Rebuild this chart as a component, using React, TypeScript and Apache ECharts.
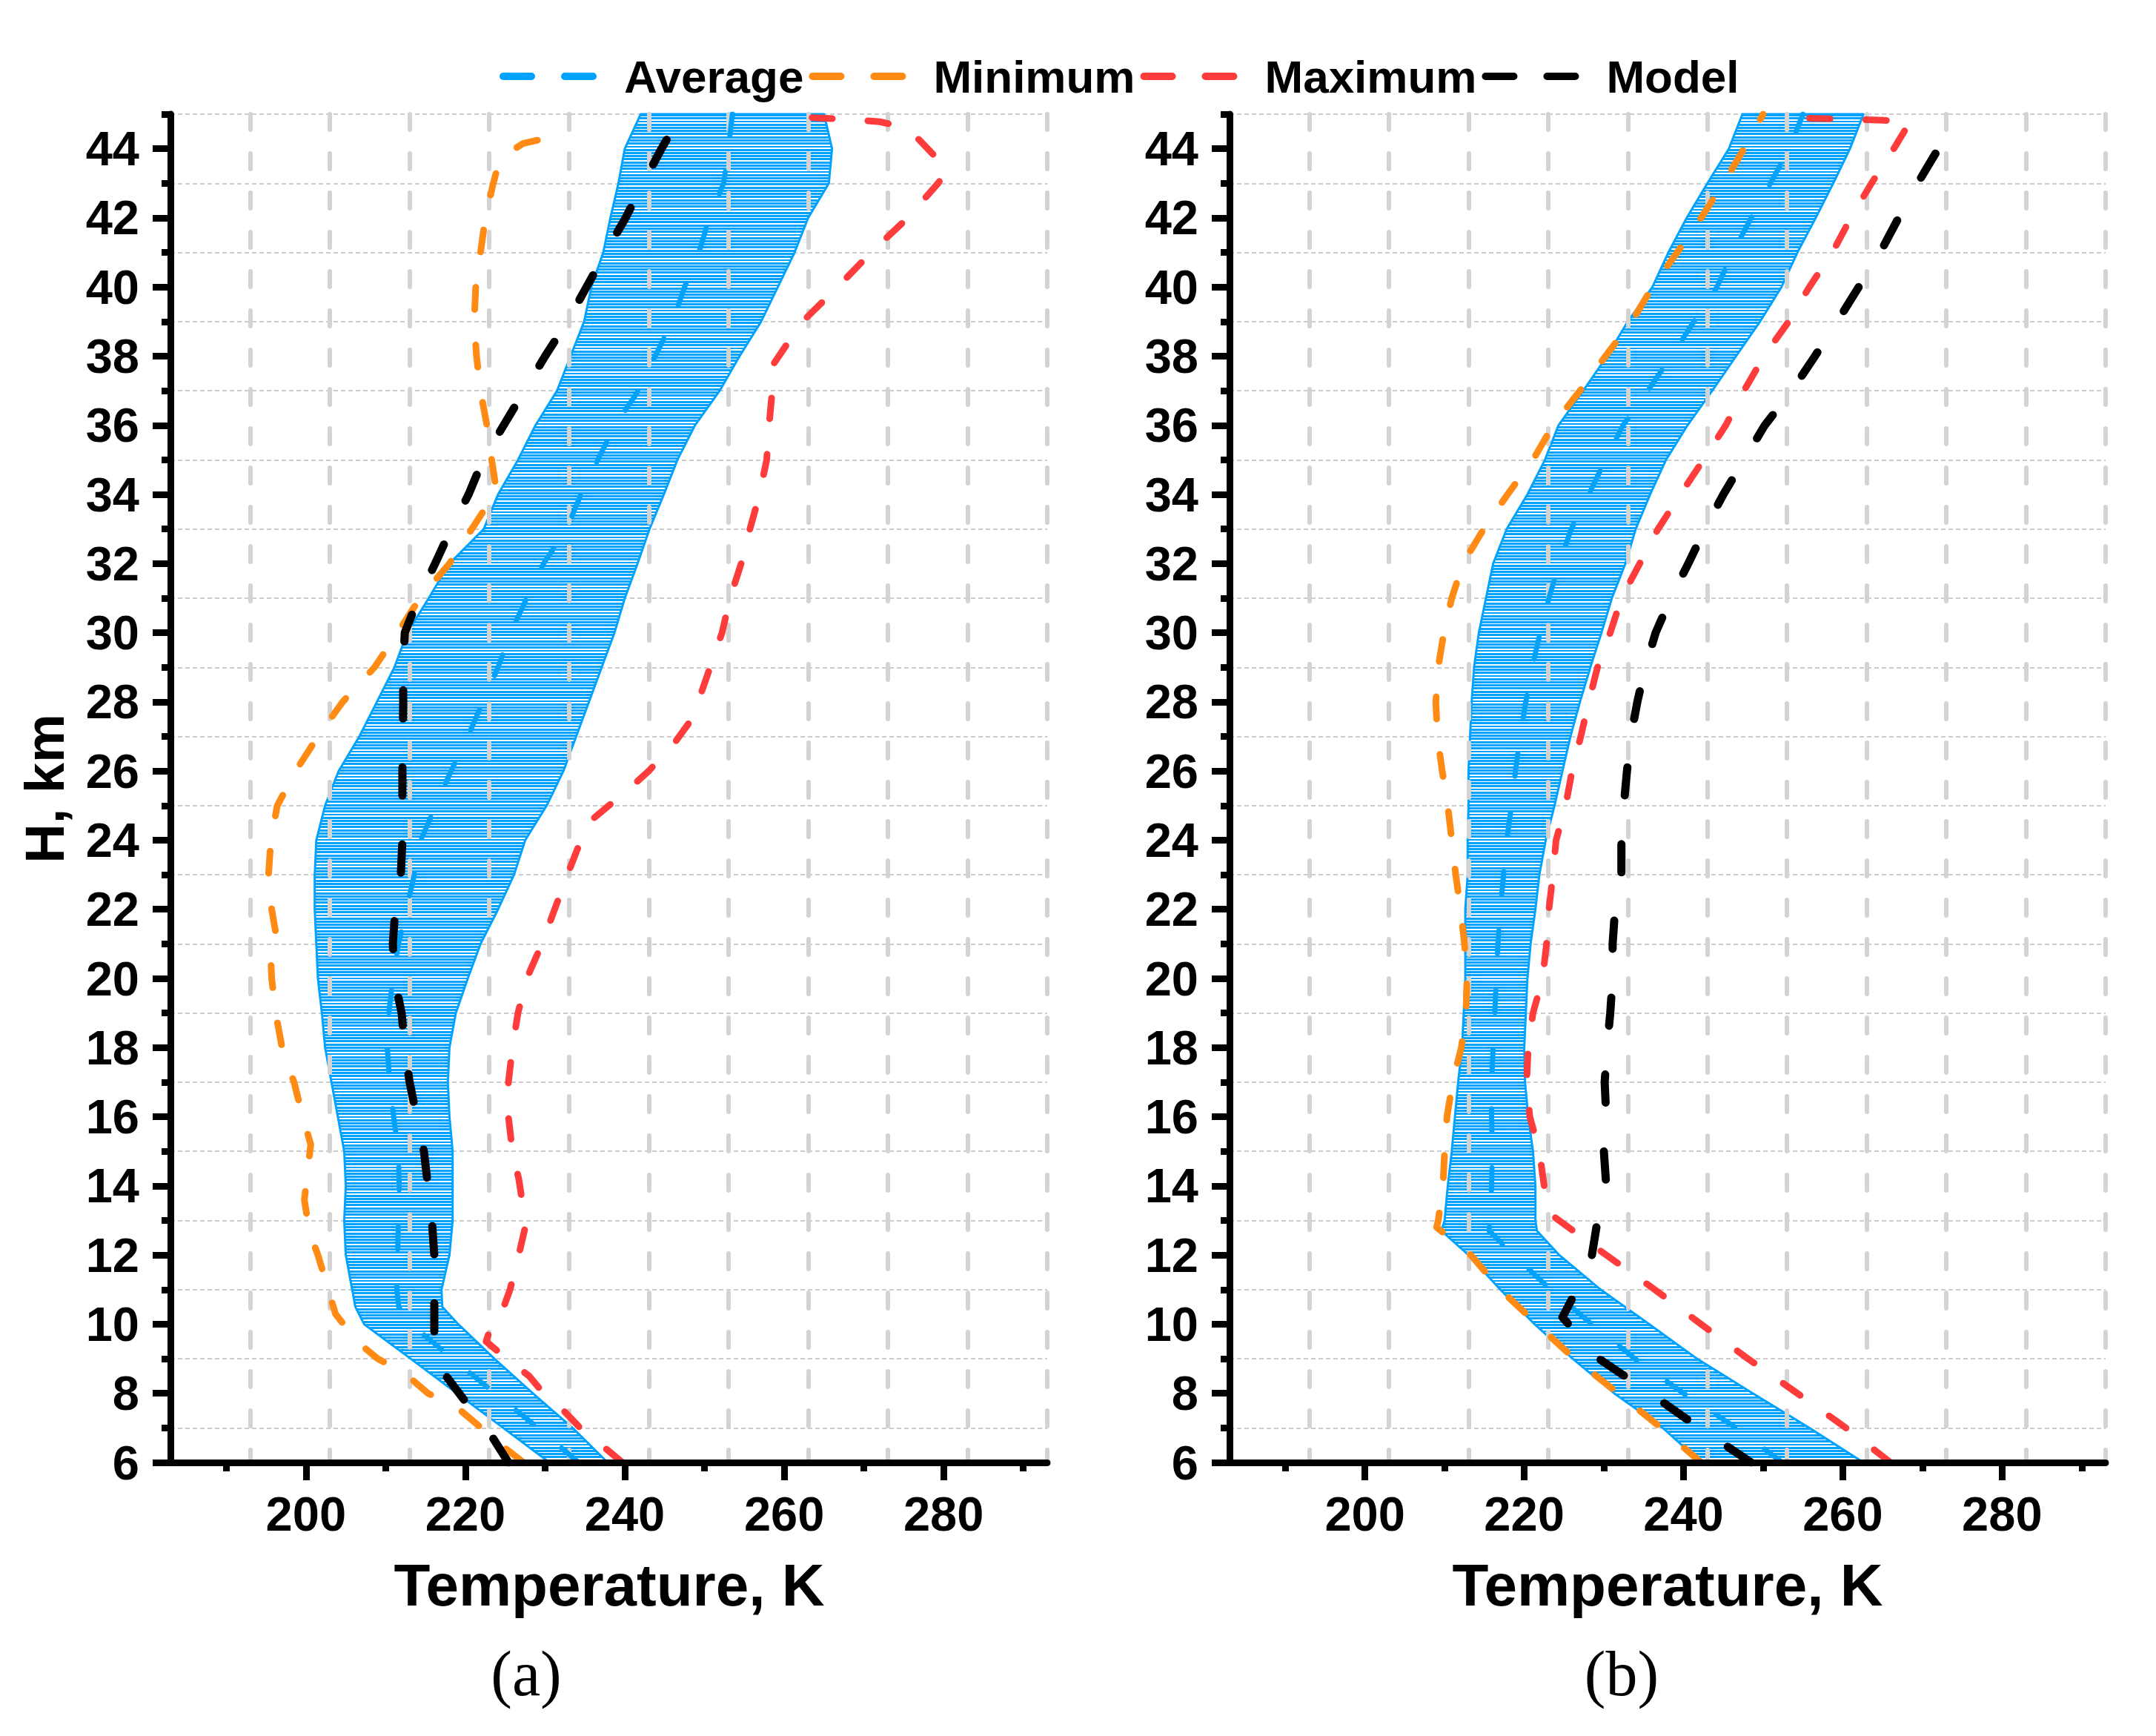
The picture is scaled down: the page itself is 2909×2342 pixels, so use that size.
import React, { useEffect, useRef } from "react";
import * as echarts from "echarts";

const BLUE = "#00a2ff";
const ORANGE = "#ff8a14";
const RED = "#ff3c3c";
const BLACK = "#000000";
const GRID_GRAY = "#d3d3d3";
const FONT = "'Liberation Sans', Arial, sans-serif";
const SERIF = "'Liberation Serif', 'Times New Roman', serif";

// Axes
const X_MIN = 183;
const X_MAX = 293;
const X_TICK_LABELS = [200, 220, 240, 260, 280];
const X_MINOR_TICKS = [190, 210, 230, 250, 270, 290];
const Y_MIN = 6;
const Y_MAX = 45;
const Y_TICK_LABELS = [6, 8, 10, 12, 14, 16, 18, 20, 22, 24, 26, 28, 30, 32, 34, 36, 38, 40, 42, 44];
const Y_MINOR_TICKS = [7, 9, 11, 13, 15, 17, 19, 21, 23, 25, 27, 29, 31, 33, 35, 37, 39, 41, 43, 45];

const SERIES_NAMES = ["Average", "Minimum", "Maximum", "Model"];

// ---------- Panel (a) ----------
const bandHeightsA = [6, 7, 8, 9, 10, 10.5, 11, 12, 13, 14, 15, 16, 17, 18, 19, 20, 21, 22, 23, 24, 25, 26, 27, 28, 29, 30, 31, 32, 33, 34, 35, 36, 37, 38, 39, 40, 41, 42, 43, 44, 45];
const avgA = [234.2, 229.1, 223.7, 218.4, 213.2, 211.65, 211.4, 211.5, 211.6, 211.7, 211.6, 211.0, 210.5, 210.2, 210.4, 210.9, 211.6, 212.6, 213.6, 214.4, 216.3, 218.2, 220.3, 222.2, 224.1, 225.7, 227.7, 229.8, 232.7, 234.5, 236.6, 238.8, 241.7, 243.8, 246.0, 247.5, 249.3, 250.6, 252.4, 253.0, 253.5];
const sdA = [3.65, 4.35, 4.75, 5.25, 5.9, 5.45, 5.6, 6.5, 6.8, 6.7, 6.8, 7.0, 7.3, 7.8, 8.4, 9.4, 10.3, 11.5, 12.5, 13.1, 13.9, 14.1, 13.6, 13.3, 13.0, 13.0, 12.3, 11.8, 10.4, 10.4, 10.0, 10.0, 10.2, 10.6, 11.1, 11.7, 12.0, 12.4, 13.2, 13.0, 11.5];

const minHeightsA = [6, 6.5, 7, 7.6, 8, 8.6, 9, 9.5, 10.3, 11, 12, 12.7, 13.6, 14.4, 15.2, 16, 17, 18, 19, 20, 20.5, 21.2, 22, 23, 24, 25, 26, 27, 28, 29, 30, 31, 32, 33, 34.1, 35, 36, 37, 38, 39, 40, 41, 42, 43, 43.7, 44.15, 44.4];
const minTempsA = [227.3, 224.5, 222.0, 218.9, 215.3, 212.3, 209.0, 206.4, 203.7, 202.8, 201.5, 200.4, 199.8, 200.2, 200.6, 199.6, 198.5, 197.0, 196.2, 195.7, 195.6, 196.3, 195.7, 195.3, 195.6, 196.4, 198.7, 201.5, 204.6, 208.6, 211.5, 214.3, 218.0, 220.8, 223.9, 223.3, 222.7, 221.9, 221.4, 221.1, 221.3, 221.9, 222.5, 223.5, 224.3, 227.2, 232.0];

const maxHeightsA = [6, 6.5, 7, 7.7, 8, 8.5, 9, 9.5, 10, 10.3, 11, 12, 12.8, 13.6, 14.2, 15, 16, 17, 18, 19, 20, 21, 22, 23, 24, 24.5, 25, 25.5, 26, 26.8, 27.5, 28, 29, 30, 31, 32, 33, 34, 35, 36, 37, 37.75, 38.4, 39, 40, 41, 42, 43, 43.4, 44.6, 44.78, 44.85, 44.9];
const maxTempsA = [239.7, 237.1, 234.4, 231.5, 229.8, 228.0, 225.2, 222.6, 223.3, 224.5, 225.6, 226.7, 227.5, 227.1, 226.7, 225.9, 225.4, 225.4, 225.9, 226.6, 227.7, 229.6, 231.2, 232.8, 234.5, 235.4, 238.0, 240.6, 243.0, 246.2, 248.4, 249.2, 250.7, 252.2, 253.2, 254.6, 255.7, 256.9, 257.8, 258.1, 258.5, 258.6, 260.5, 262.3, 266.7, 270.9, 275.5, 279.3, 280.5, 275.5, 272.0, 268.0, 263.5];

const modelHeightsA = [6, 6.8, 7.7, 8.65, 9.2, 10, 11, 12, 13, 14, 15, 16, 17, 18, 19, 20, 21, 22, 23, 24, 26, 28, 29, 30, 31, 32, 33, 34, 35, 36, 37, 38, 39, 40, 41, 42, 43, 44, 45];
const modelTempsA = [225.4, 223.2, 220.2, 217.1, 216.1, 216.1, 216.1, 216.1, 215.8, 215.3, 214.8, 213.9, 213.0, 212.4, 212.0, 211.1, 210.9, 211.2, 211.9, 212.1, 212.1, 212.2, 212.2, 212.4, 214.1, 216.2, 218.2, 220.4, 222.2, 224.8, 227.4, 230.0, 232.8, 235.2, 237.6, 240.1, 242.3, 244.6, 247.1];

// ---------- Panel (b) ----------
const bandHeightsB = [6, 7, 8, 9, 10, 11, 12, 12.7, 13, 14, 15, 16, 17, 18, 19, 20, 21, 22, 23, 24, 25, 26, 27, 28, 29, 30, 31, 32, 33, 34, 35, 36, 37, 38, 39, 40, 41, 42, 43, 44, 45];
const avgB = [252.4, 246.6, 240.0, 233.9, 228.5, 223.3, 218.7, 215.6, 215.7, 215.9, 216.0, 215.9, 215.9, 216.1, 216.3, 216.5, 216.7, 217.0, 217.4, 217.8, 218.4, 218.9, 219.5, 220.2, 221.0, 222.0, 223.1, 224.4, 225.9, 228.1, 230.2, 232.4, 235.5, 238.5, 241.3, 244.2, 246.2, 248.5, 250.9, 253.3, 255.0];
const sdB = [10.2, 9.2, 8.7, 7.8, 7.2, 6.3, 5.7, 6.0, 5.7, 5.5, 5.1, 4.6, 4.2, 3.9, 3.9, 3.9, 4.1, 4.4, 4.5, 4.9, 5.4, 5.9, 6.3, 6.8, 7.3, 7.7, 7.9, 8.3, 8.1, 7.7, 7.6, 8.1, 8.1, 8.1, 8.3, 8.1, 8.1, 8.1, 7.9, 7.6, 7.6];

const minHeightsB = [6, 7, 8, 9, 10, 11, 12, 12.8, 13, 14, 15, 16, 17, 18, 19, 20, 21, 22, 23, 24, 25, 26, 27, 28, 29, 30, 31, 32, 33, 34, 35, 36, 37, 38, 39, 40, 41, 42, 43, 44, 45];
const minTempsB = [242.2, 237.2, 231.8, 226.3, 221.6, 217.0, 213.3, 209.0, 209.2, 209.8, 210.0, 210.3, 211.0, 212.1, 212.7, 212.8, 212.5, 212.0, 211.4, 210.9, 210.4, 209.7, 209.1, 208.9, 209.2, 209.9, 210.9, 212.3, 214.9, 217.9, 221.1, 223.6, 227.0, 230.2, 233.5, 236.1, 239.2, 242.2, 245.0, 247.6, 250.0];

const maxHeightsB = [6, 7, 8, 9, 10, 11, 12, 13.2, 14, 15, 16, 17, 18, 19, 20, 21, 22, 23, 24, 25, 26, 27, 28, 29, 30, 31, 32, 33, 34, 35, 36, 37, 38, 39, 40, 41, 42, 43, 44, 44.8, 44.9];
const maxTempsB = [266.0, 260.4, 254.3, 248.1, 242.2, 236.4, 230.3, 223.2, 222.5, 221.9, 220.7, 220.3, 220.5, 221.1, 222.3, 222.8, 223.1, 223.6, 224.0, 225.2, 226.0, 227.1, 228.1, 229.2, 230.8, 232.2, 234.5, 236.8, 239.6, 242.5, 245.3, 247.6, 250.1, 253.2, 255.8, 258.7, 261.0, 263.6, 266.4, 268.5, 253.5];

const modelHeightsB = [6, 7, 8, 9, 10.2, 11, 12, 13, 14, 15, 16, 17, 18, 19, 20, 21, 22, 23, 24, 25, 26, 27, 28, 29, 30, 31, 32, 33, 34, 35, 36, 37, 38, 39, 40, 41, 42, 43, 44, 45];
const modelTempsB = [248.5, 242.0, 235.8, 229.4, 224.8, 226.6, 228.5, 229.2, 230.3, 230.0, 230.3, 230.1, 230.4, 230.8, 231.1, 231.1, 231.4, 232.2, 232.2, 232.5, 232.9, 233.4, 234.2, 235.2, 236.5, 238.4, 240.6, 242.7, 245.0, 247.6, 250.2, 253.6, 256.5, 259.3, 262.0, 264.7, 267.0, 269.4, 272.0, 274.1];

const PANELS = [
  {
    band: { heights: bandHeightsA, avg: avgA, sd: sdA },
    min: { heights: minHeightsA, temps: minTempsA },
    max: { heights: maxHeightsA, temps: maxTempsA },
    model: { heights: modelHeightsA, temps: modelTempsA },
  },
  {
    band: { heights: bandHeightsB, avg: avgB, sd: sdB },
    min: { heights: minHeightsB, temps: minTempsB },
    max: { heights: maxHeightsB, temps: maxTempsB },
    model: { heights: modelHeightsB, temps: modelTempsB },
  },
];

const GRIDS = [
  { left: 230, top: 154, width: 1183, height: 1819 },
  { left: 1659, top: 154, width: 1182, height: 1819 },
];

function stripeFill(y0: number, y1: number) {
  const period = 4.25;
  const n = Math.max(1, Math.round((y1 - y0) / period));
  const stops: { offset: number; color: string }[] = [];
  for (let i = 0; i < n; i++) {
    stops.push({ offset: i / n, color: BLUE });
    stops.push({ offset: (i + 0.68) / n, color: BLUE });
    stops.push({ offset: (i + 0.68) / n, color: "#ffffff" });
    stops.push({ offset: (i + 1) / n, color: "#ffffff" });
  }
  return new echarts.graphic.LinearGradient(0, y0, 0, y1, stops, true);
}

function makeBandRenderer(heights: number[], avg: number[], sd: number[]) {
  return (params: any, api: any) => {
    if (params.dataIndex !== 0) return null;
    const leftPts = heights.map((h, i) => api.coord([avg[i] - sd[i], h]));
    const rightPts = heights.map((h, i) => api.coord([avg[i] + sd[i], h])).reverse();
    const top = api.coord([X_MIN, Y_MAX])[1];
    const bottom = api.coord([X_MIN, Y_MIN])[1];
    return {
      type: "polygon",
      shape: { points: leftPts.concat(rightPts) },
      style: { fill: stripeFill(top, bottom), stroke: BLUE, lineWidth: 3, lineJoin: "round" },
    };
  };
}

function pairs(temps: number[], heights: number[]) {
  return heights.map((h, i) => [temps[i], h]);
}

function lineSeries(name: string, data: number[][], g: number, color: string, width: number, dash: number[]) {
  return {
    type: "line",
    name,
    data,
    xAxisIndex: g * 3,
    yAxisIndex: g * 3,
    symbol: "none",
    showSymbol: false,
    smooth: false,
    silent: true,
    z: 4,
    itemStyle: { color },
    lineStyle: { color, width, type: dash, cap: "round", join: "round" },
  };
}

function buildOption() {
  const xAxis: any[] = [];
  const yAxis: any[] = [];
  const series: any[] = [];
  const labelStyle = { fontFamily: FONT, fontWeight: "bold", fontSize: 65, color: "#000" };

  GRIDS.forEach((_, g) => {
    // main x axis
    xAxis.push({
      type: "value", gridIndex: g, position: "bottom", min: X_MIN, max: X_MAX, z: 6,
      axisLine: { show: true, onZero: false, lineStyle: { color: "#000", width: 9 } },
      axisTick: { show: true, customValues: X_TICK_LABELS, length: 24, lineStyle: { color: "#000", width: 9 } },
      axisLabel: { show: true, customValues: X_TICK_LABELS, margin: 37, ...labelStyle },
      splitLine: { show: false },
    });
    // minor x ticks
    xAxis.push({
      type: "value", gridIndex: g, position: "bottom", min: X_MIN, max: X_MAX, z: 6,
      axisLine: { show: false, onZero: false },
      axisTick: { show: true, customValues: X_MINOR_TICKS, length: 12, lineStyle: { color: "#000", width: 9 } },
      axisLabel: { show: false },
      splitLine: { show: false },
    });
    // vertical dashed grid
    xAxis.push({
      type: "value", gridIndex: g, position: "bottom", min: X_MIN, max: X_MAX, interval: 10, z: 3,
      axisLine: { show: false, onZero: false },
      axisTick: { show: false },
      axisLabel: { show: false },
      splitLine: { show: true, lineStyle: { color: GRID_GRAY, width: 6, type: [21, 32], cap: "round" } },
    });
    // main y axis
    yAxis.push({
      type: "value", gridIndex: g, position: "left", min: Y_MIN, max: Y_MAX, z: 6,
      axisLine: { show: true, onZero: false, lineStyle: { color: "#000", width: 9 } },
      axisTick: { show: true, customValues: Y_TICK_LABELS, length: 24, lineStyle: { color: "#000", width: 9 } },
      axisLabel: { show: true, customValues: Y_TICK_LABELS, margin: 42, ...labelStyle },
      splitLine: { show: false },
    });
    // minor y ticks
    yAxis.push({
      type: "value", gridIndex: g, position: "left", min: Y_MIN, max: Y_MAX, z: 6,
      axisLine: { show: false, onZero: false },
      axisTick: { show: true, customValues: Y_MINOR_TICKS, length: 12, lineStyle: { color: "#000", width: 9 } },
      axisLabel: { show: false },
      splitLine: { show: false },
    });
    // horizontal dotted grid
    yAxis.push({
      type: "value", gridIndex: g, position: "left", min: Y_MIN, max: Y_MAX, z: 0,
      axisLine: { show: false, onZero: false },
      axisTick: { show: false, customValues: Y_MINOR_TICKS },
      axisLabel: { show: false },
      splitLine: { show: true, lineStyle: { color: "#cccccc", width: 2, type: [6, 4] } },
    });

    const p = PANELS[g];
    series.push({
      type: "custom",
      name: "band" + g,
      xAxisIndex: g * 3,
      yAxisIndex: g * 3,
      silent: true,
      z: 2,
      data: p.band.heights.map((h, i) => [p.band.avg[i], h, p.band.sd[i]]),
      encode: { x: 0, y: 1 },
      renderItem: makeBandRenderer(p.band.heights, p.band.avg, p.band.sd),
    });
    series.push(lineSeries("Average", pairs(p.band.avg, p.band.heights), g, BLUE, 7, [30, 50]));
    series.push(lineSeries("Minimum", pairs(p.min.temps, p.min.heights), g, ORANGE, 9, [30, 48]));
    series.push(lineSeries("Maximum", pairs(p.max.temps, p.max.heights), g, RED, 9, [28, 48]));
    series.push(lineSeries("Model", pairs(p.model.temps, p.model.heights), g, BLACK, 11, [38, 66]));
  });

  const titleFont = `bold 80px ${FONT}`;
  return {
    animation: false,
    backgroundColor: "#ffffff",
    textStyle: { fontFamily: FONT },
    grid: GRIDS.map((g) => ({ ...g, containLabel: false })),
    xAxis,
    yAxis,
    legend: {
      data: SERIES_NAMES,
      left: 674,
      top: 72,
      padding: 0,
      itemWidth: 158,
      itemHeight: 62,
      itemGap: 7,
      selectedMode: false,
      itemStyle: { opacity: 0 },
      lineStyle: { width: 10, type: [38, 45], cap: "round" },
      textStyle: { fontFamily: FONT, fontWeight: "bold", fontSize: 62, lineHeight: 62, color: "#000" },
    },
    graphic: [
      {
        type: "text", x: 60, y: 1064, rotation: Math.PI / 2,
        style: { text: "H, km", font: `bold 74px ${FONT}`, fill: "#000", align: "center", verticalAlign: "middle" },
      },
      {
        type: "text", x: 822, y: 2138,
        style: { text: "Temperature, K", font: titleFont, fill: "#000", align: "center", verticalAlign: "middle" },
      },
      {
        type: "text", x: 2250, y: 2138,
        style: { text: "Temperature, K", font: titleFont, fill: "#000", align: "center", verticalAlign: "middle" },
      },
      {
        type: "text", x: 710, y: 2258,
        style: { text: "(a)", font: `86px ${SERIF}`, fill: "#000", align: "center", verticalAlign: "middle" },
      },
      {
        type: "text", x: 2188, y: 2258,
        style: { text: "(b)", font: `86px ${SERIF}`, fill: "#000", align: "center", verticalAlign: "middle" },
      },
    ],
    series,
  };
}

export default function App() {
  const ref = useRef<HTMLDivElement>(null);
  useEffect(() => {
    if (!ref.current) return;
    const chart = echarts.init(ref.current, null, { renderer: "svg", width: 2909, height: 2342 });
    chart.setOption(buildOption() as any);
    return () => chart.dispose();
  }, []);
  return (
    <div
      ref={ref}
      style={{ position: "absolute", left: 0, top: 0, width: 2909, height: 2342, background: "#fff" }}
    />
  );
}
